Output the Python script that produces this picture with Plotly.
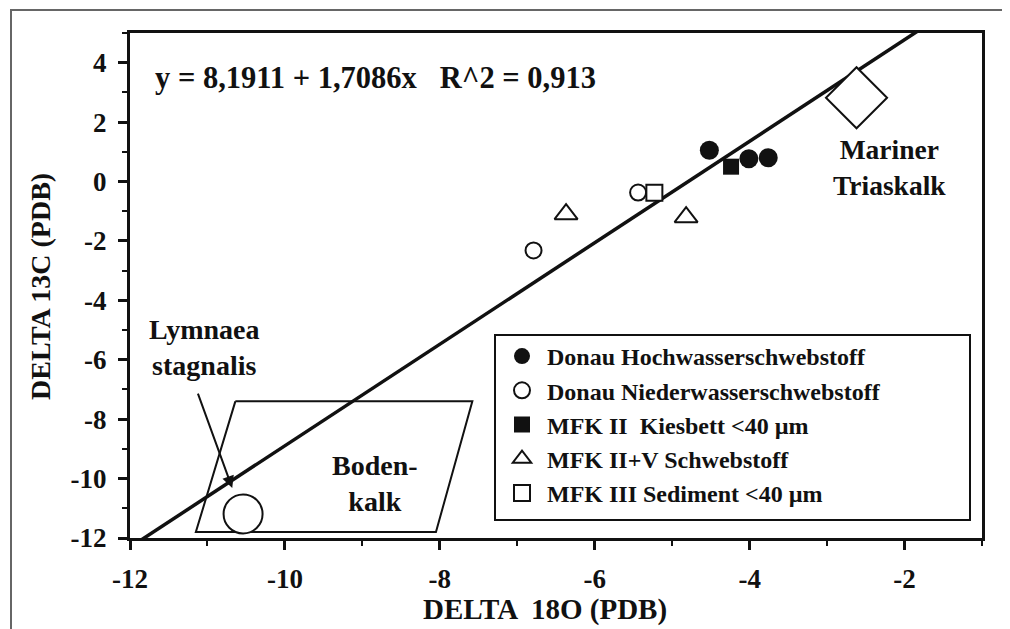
import plotly.graph_objects as go

# ---- data ----
hoch_x = [-4.52, -4.01, -3.76]
hoch_y = [1.05, 0.77, 0.80]
nieder_x = [-5.44, -6.79]
nieder_y = [-0.37, -2.32]
kies_x = [-4.24]
kies_y = [0.50]
schweb_x = [-6.37, -4.82]
schweb_y = [-1.10, -1.20]
sed_x = [-5.23]
sed_y = [-0.38]

mariner_x = [-2.62]
mariner_y = [2.82]
lymnaea_x = [-10.54]
lymnaea_y = [-11.19]

boden_x = [-10.64, -7.58, -8.05, -11.15, -10.64]
boden_y = [-7.4, -7.4, -11.8, -11.8, -7.4]

intercept = 8.1911
slope = 1.7086
line_x = [-12.0, -1.0]
line_y = [intercept + slope * v for v in line_x]

x_ticks = [-12, -10, -8, -6, -4, -2]
x_tick_labels = ["-12", "-10", "-8", "-6", "-4", "-2"]
y_ticks = [-12, -10, -8, -6, -4, -2, 0, 2, 4]
y_tick_labels = ["-12", "-10", "-8", "-6", "-4", "-2", "0", "2", "4"]

legend_names = [
    "Donau Hochwasserschwebstoff",
    "Donau Niederwasserschwebstoff",
    "MFK II  Kiesbett <40 µm",
    "MFK II+V Schwebstoff",
    "MFK III Sediment <40 µm",
]

FONT = "Liberation Serif"
BLK = "#111111"

fig = go.Figure()

# regression line
fig.add_trace(go.Scatter(x=line_x, y=line_y, mode="lines",
                         line=dict(color=BLK, width=3.5), showlegend=False,
                         hoverinfo="skip"))
# Bodenkalk polygon
fig.add_trace(go.Scatter(x=boden_x, y=boden_y, mode="lines",
                         line=dict(color=BLK, width=2), showlegend=False,
                         hoverinfo="skip"))
# Mariner Triaskalk diamond
fig.add_trace(go.Scatter(x=mariner_x, y=mariner_y, mode="markers",
                         marker=dict(symbol="diamond", size=47, color="white",
                                     line=dict(color=BLK, width=2)),
                         showlegend=False))
# Lymnaea stagnalis circle
fig.add_trace(go.Scatter(x=lymnaea_x, y=lymnaea_y, mode="markers",
                         marker=dict(symbol="circle", size=39, color="white",
                                     line=dict(color=BLK, width=2)),
                         showlegend=False))

series = [
    (hoch_x, hoch_y, dict(symbol="circle", size=19, color=BLK,
                          line=dict(color=BLK, width=0))),
    (nieder_x, nieder_y, dict(symbol="circle", size=16, color="white",
                              line=dict(color=BLK, width=2))),
    (kies_x, kies_y, dict(symbol="square", size=16, color=BLK,
                          line=dict(color=BLK, width=0))),
    (schweb_x, schweb_y, dict(symbol="triangle-up", size=20, color="white",
                              line=dict(color=BLK, width=2))),
    (sed_x, sed_y, dict(symbol="square", size=16, color="white",
                        line=dict(color=BLK, width=2))),
]
for i, (xs, ys, mk) in enumerate(series):
    fig.add_trace(go.Scatter(x=xs, y=ys, mode="markers", marker=mk,
                             name=legend_names[i], legendgroup=f"g{i}"))

annots = [
    dict(x=-11.7, y=3.5, text="y = 8,1911 + 1,7086x   R^2 = 0,913",
         xanchor="left", yanchor="middle", font=dict(size=30.5)),
    dict(x=-2.19, y=0.47, text="Mariner<br>Triaskalk",
         xanchor="center", yanchor="middle", font=dict(size=27.5)),
    dict(x=-8.84, y=-10.18, text="Boden-<br>kalk",
         xanchor="center", yanchor="middle", font=dict(size=28)),
    dict(x=-11.05, y=-5.6, text="Lymnaea<br>stagnalis",
         xanchor="center", yanchor="middle", font=dict(size=28)),
]
for a in annots:
    a.update(xref="x", yref="y", showarrow=False)
    a["font"].update(family=FONT, color=BLK, weight="bold")
    fig.add_annotation(**a)

# arrow to Lymnaea
fig.add_annotation(x=-10.68, y=-10.32, ax=-11.13, ay=-7.09,
                   xref="x", yref="y", axref="x", ayref="y",
                   showarrow=True, arrowhead=2, arrowsize=1.2, arrowwidth=2,
                   arrowcolor=BLK, text="")

# axis titles
fig.add_annotation(x=(545 - 130) / 852, y=-(609 - 538) / 505, xref="paper", yref="paper",
                   text="DELTA  18O (PDB)", showarrow=False,
                   font=dict(family=FONT, size=29, color=BLK, weight="bold"),
                   xanchor="center", yanchor="middle")
fig.add_annotation(x=-(130 - 40) / 852, y=(538 - 287) / 505, xref="paper", yref="paper",
                   text="DELTA 13C (PDB)", showarrow=False, textangle=-90,
                   font=dict(family=FONT, size=28, color=BLK, weight="bold"),
                   xanchor="center", yanchor="middle")

# outer frame and legend box
fig.add_shape(type="rect", xref="paper", yref="paper",
              x0=-(130 - 11) / 852, x1=(1005 - 130) / 852,
              y0=-0.3, y1=(538 - 10) / 505,
              line=dict(color="#666666", width=2))
fig.add_shape(type="rect", xref="paper", yref="paper",
              x0=(495 - 130) / 852, x1=(970 - 130) / 852,
              y0=(538 - 520) / 505, y1=(538 - 335) / 505,
              line=dict(color=BLK, width=2))

SPAN = '<span style="font-family:Liberation Serif;font-weight:bold">{}</span>'

def axis_style(vals, labels, rng):
    return dict(range=rng, showline=True, linewidth=3, linecolor=BLK, mirror=True,
                showgrid=False, zeroline=False, ticks="outside",
                tickwidth=2.5, tickcolor=BLK, ticklen=9,
                tickmode="array", tickvals=vals,
                ticktext=[SPAN.format(t) for t in labels],
                ticklabelstandoff=6,
                tickfont=dict(family=FONT, size=27, color=BLK, weight="bold"),
                minor=dict(dtick=1, ticks="outside", ticklen=5,
                           tickwidth=2, tickcolor=BLK, showgrid=False))

fig.update_layout(
    width=1010, height=629,
    margin=dict(l=122, r=36, t=25, b=99),
    paper_bgcolor="white", plot_bgcolor="white",
    font=dict(family=FONT, color=BLK, weight="bold"),
    xaxis=axis_style(x_ticks, x_tick_labels, [-12, -1]),
    yaxis=axis_style(y_ticks, y_tick_labels, [-12, 5]),
    legend=dict(x=(497 - 130) / 852, y=(538 - 334) / 505, xanchor="left", yanchor="top",
                bgcolor="rgba(0,0,0,0)", borderwidth=0,
                font=dict(family=FONT, size=24, color=BLK, weight="bold"),
                tracegroupgap=0, itemwidth=40),
    showlegend=True,
)

fig.write_html("out.html")
